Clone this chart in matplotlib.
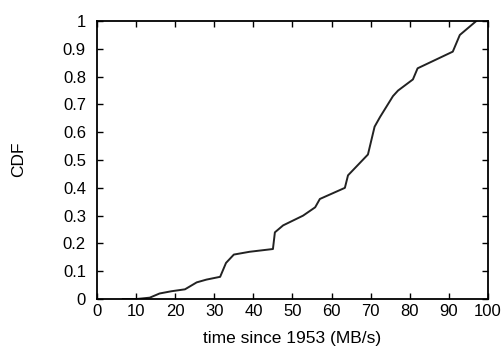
import matplotlib
matplotlib.use("Agg")
import matplotlib.pyplot as plt

plt.rcParams['font.family'] = ['Liberation Sans', 'DejaVu Sans']

# CDF curve
time_x = [6.6, 10, 13.5, 16, 19, 22.5, 25.5, 28, 31.5, 33, 35, 39, 45, 45.5,
          47.6, 52.7, 55.8, 57, 63.4, 64.2, 69.3, 71, 72.4, 75.7, 77, 80.8,
          82, 91, 92.8, 97]
cdf_y = [0.0, 0.0, 0.005, 0.02, 0.028, 0.035, 0.06, 0.07, 0.08, 0.13, 0.16,
         0.17, 0.18, 0.24, 0.265, 0.30, 0.33, 0.36, 0.40, 0.445, 0.52, 0.62,
         0.655, 0.73, 0.75, 0.79, 0.83, 0.89, 0.95, 1.0]

x_ticks = [0, 10, 20, 30, 40, 50, 60, 70, 80, 90, 100]
y_ticks = [0, 0.1, 0.2, 0.3, 0.4, 0.5, 0.6, 0.7, 0.8, 0.9, 1]
y_labels = ["0", "0.1", "0.2", "0.3", "0.4", "0.5", "0.6", "0.7", "0.8", "0.9", "1"]

fig = plt.figure(figsize=(5.01, 3.51), dpi=100)
ax = fig.add_axes([0.1936, 0.148, 0.7804, 0.792])

ax.plot(time_x, cdf_y, color="#222222", lw=1.4)

ax.set_xlim(0, 100)
ax.set_ylim(0, 1)
ax.set_xticks(x_ticks)
ax.set_yticks(y_ticks)
ax.set_yticklabels(y_labels)
ax.tick_params(direction="in", top=True, right=True, length=4, width=1,
               labelsize=12)
ax.tick_params(axis="x", pad=3.5)
ax.tick_params(axis="y", pad=8)
for s in ax.spines.values():
    s.set_linewidth(1.3)

ax.set_xlabel("time since 1953 (MB/s)", fontsize=12.5)
ax.xaxis.set_label_coords(0.5, -0.115)
fig.text(0.038, 0.545, "CDF", rotation=90, ha="center", va="center",
         fontsize=12.5)

fig.savefig("out.png", dpi=100)
